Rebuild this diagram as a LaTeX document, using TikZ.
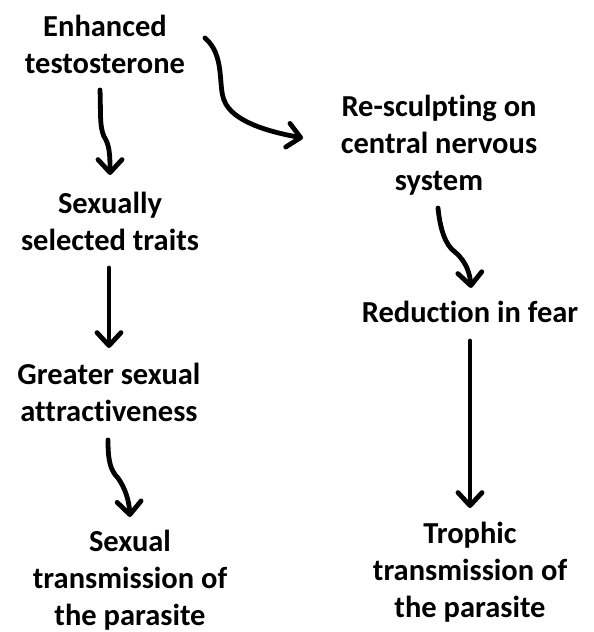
\documentclass[tikz,border=0pt]{standalone}
\usepackage{fontspec}
\setmainfont{Carlito}[Ligatures=NoCommon]
\usetikzlibrary{arrows.meta,calc}
\tikzset{
  lbl/.style={align=center, anchor=base, inner sep=0pt, font=\bfseries\fontsize{30.5}{37}\selectfont},
  arr/.style={line width=4.8pt, line cap=round, line join=round, -{Straight Barb[length=13pt,width=24pt,line cap=round,line join=round]}}
}
\begin{document}
\begin{tikzpicture}[x=1pt,y=-1pt]
\useasboundingbox (0,0) rectangle (594,632);
\node[lbl] (enh) at (105,73) {Enhanced\\testosterone};
\node[lbl] (resc) at (439,190) {Re-sculpting on\\central nervous\\system};
\node[lbl] (sst) at (110,250) {Sexually\\selected traits};
\node[lbl] (gsa) at (109,421) {Greater sexual\\attractiveness};
\node[lbl] (red) at (470,322) {Reduction in fear};
\node[lbl] (stp) at (130,625) {Sexual\\transmission of\\the parasite};
\node[lbl] (ttp) at (470,617) {Trophic\\transmission of\\the parasite};

\draw[arr] ($(enh.base)+(-5,17)$) .. controls ($(enh.base)+(-4,42)$) and ($(enh.base)+(-6,57)$) .. ($(enh.base)+(1,67)$) .. controls ($(enh.base)+(5,75)$) and ($(sst.base)+(0,-90)$) .. ($(sst.base)+(0,-75)$);
\draw[arr] ($(enh.base)+(100,-35)$) .. controls ($(enh.base)+(120,-18)$) and ($(enh.base)+(113,12)$) .. ($(enh.base)+(119,27)$) .. controls ($(resc.base)+(-207,-68)$) and ($(resc.base)+(-169,-58)$) .. ($(resc.base)+(-136,-52)$);
\draw[arr] ($(sst.base)+(-1,18)$) -- ($(gsa.base)+(0,-73)$);
\draw[arr] ($(gsa.base)+(-1,19)$) .. controls ($(gsa.base)+(-1,39)$) and ($(gsa.base)+(1,49)$) .. ($(gsa.base)+(9,57)$) .. controls ($(gsa.base)+(16,67)$) and ($(stp.base)+(-1,-125)$) .. ($(stp.base)+(0,-108)$);
\draw[arr] ($(resc.base)+(-1,18)$) .. controls ($(resc.base)+(1,38)$) and ($(resc.base)+(6,55)$) .. ($(resc.base)+(16,62)$) .. controls ($(resc.base)+(28,72)$) and ($(red.base)+(0,-47)$) .. ($(red.base)+(1,-34)$);
\draw[arr] ($(red.base)+(0,19)$) -- ($(ttp.base)+(0,-109)$);
\end{tikzpicture}
\end{document}
